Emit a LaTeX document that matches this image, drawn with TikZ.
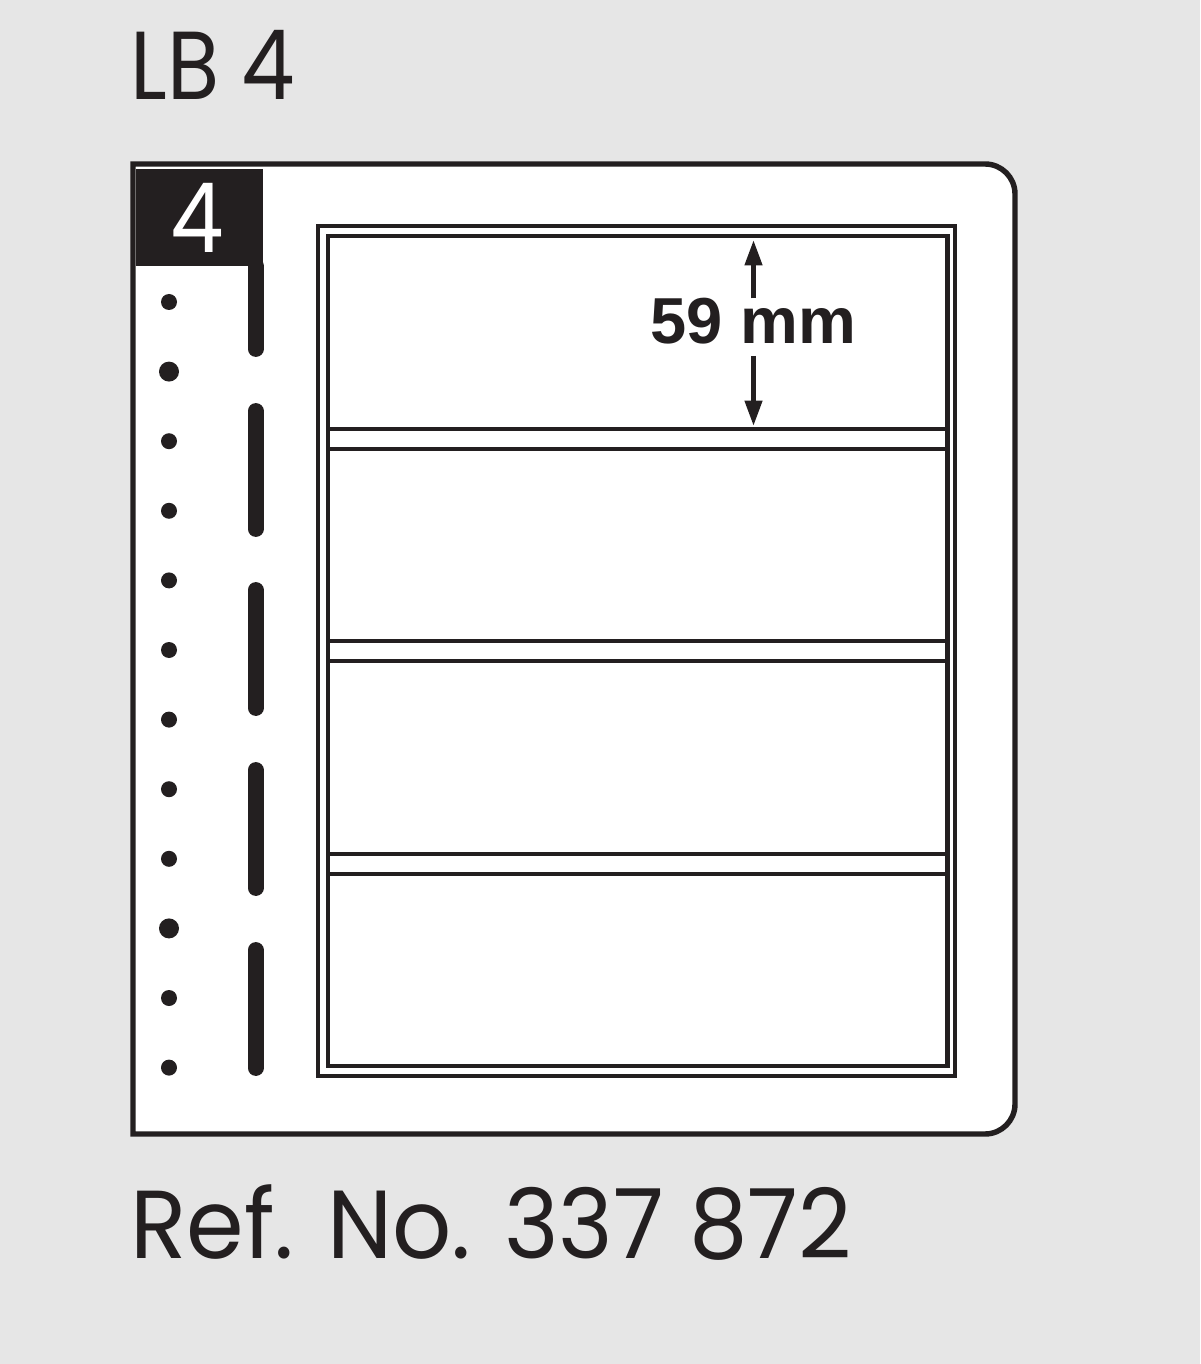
\documentclass[tikz,border=0pt]{standalone}
\usepackage{fontspec}
\setmainfont{Poppins}[FakeStretch=0.88]
\newfontfamily\widefont{Poppins}[FakeStretch=0.96]
\newfontfamily\dimfont{Liberation Sans}
\usetikzlibrary{arrows.meta}
\definecolor{ink}{HTML}{231F20}
\definecolor{paper}{HTML}{E6E6E6}
\tikzset{
  outline/.style={draw=ink, line width=3.1pt},
  frame/.style={draw=ink, line width=2.3pt},
  slot/.style={draw=ink, line width=9pt, line cap=round},
  dimarrow/.style={draw=ink, line width=2.8pt, -{Triangle[width=9.6pt,length=14.5pt]}},
  bigtext/.style={font=\fontsize{55}{60}\selectfont, text=ink, inner sep=0pt},
}
\begin{document}
\begin{tikzpicture}[x=0.02cm, y=-0.02cm]
	\fill[paper] (0,0) rectangle (1200,1364);
	\filldraw[fill=white, outline] (133,1134) -- (133,164) [rounded corners=0.6cm] -- (1015,164) -- (1015,1134) [sharp corners] -- (133,1134) -- cycle;
	\fill[ink] (136,169) rectangle (263,266);
	\node[bigtext, text=white, anchor=base] (tabnum) at (197,253) {4};
	\draw[slot] (255.7,266) -- (255.7,349);
	\foreach \c in {470,649,829,1009}
		\draw[slot] (255.7,\c-59) -- (255.7,\c+59);
	\foreach \k in {0,...,11}
		\fill[ink] (169,302+69.6*\k) circle (0.16cm);
	\foreach \y in {371.6,928.4}
		\fill[ink] (169,\y) circle (0.2cm);
	\draw[frame] (318,226) rectangle (955,1076);
	\draw[frame] (328,236) rectangle (947.5,1066);
	\foreach \y in {429,641,854}
		\draw[frame] (328,\y) -- (947.5,\y) (328,\y+20) -- (947.5,\y+20);
	\node[inner sep=0pt, text=ink, anchor=base, font=\dimfont\bfseries\fontsize{37}{40}\selectfont] (size) at (753.5,344) {59 mm};
	\coordinate (tipup) at (753.5,240);
	\coordinate (tipdown) at (753.5,426);
	\draw[dimarrow] (size.north) -- (tipup);
	\draw[dimarrow] ([yshift=-0.22cm]size.south) -- (tipdown);
	\node[bigtext, anchor=base west] (title) at (130,100) {LB 4};
	\node[bigtext, font=\widefont\fontsize{55}{60}\selectfont, anchor=base west] (refno) at (130,1258) {Ref. No. 337 872};
\end{tikzpicture}
\end{document}
